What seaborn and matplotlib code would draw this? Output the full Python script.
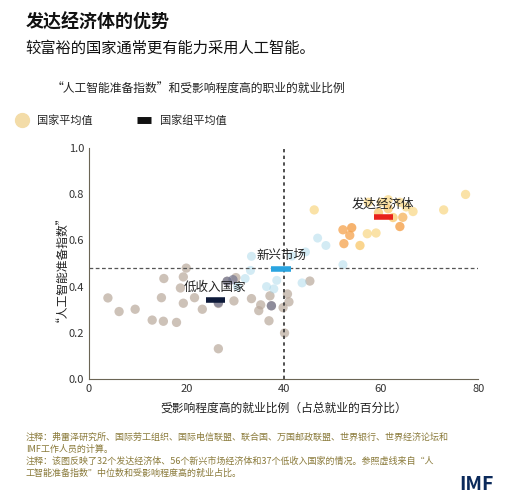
import matplotlib
matplotlib.use("Agg")
import matplotlib.pyplot as plt
import seaborn as sns
from matplotlib.lines import Line2D

sns.set_style("white")
plt.rcParams['font.family'] = ['Noto Sans CJK SC', 'DejaVu Sans']

# 低收入国家
low_x = [3.9, 6.2, 9.5, 13.0, 15.3, 18.0, 14.9, 15.4, 18.8, 19.4, 20.0, 19.4, 21.7, 23.3,
         26.6, 26.6, 29.8, 28.4, 30.2, 33.4, 35.3, 34.9, 37.0, 37.2, 37.5, 39.9, 40.8, 41.1, 40.2, 45.4]
low_y = [0.351, 0.292, 0.302, 0.255, 0.250, 0.245, 0.352, 0.435, 0.394, 0.442, 0.48, 0.328, 0.352, 0.302,
         0.131, 0.327, 0.338, 0.423, 0.439, 0.348, 0.321, 0.296, 0.252, 0.36, 0.317, 0.309, 0.368, 0.334, 0.199, 0.424]
low_dark_x = [28.4, 29.6, 37.5, 26.6]
low_dark_y = [0.423, 0.43, 0.317, 0.33]
# 新兴市场
em_x = [33.4, 32.1, 38.6, 41.7, 43.8, 48.7, 52.2, 33.2, 36.5, 44.5, 47.0, 30.5, 38.0]
em_y = [0.531, 0.435, 0.427, 0.532, 0.416, 0.578, 0.495, 0.47, 0.40, 0.55, 0.61, 0.40, 0.39]
# 发达经济体
adv_x = [46.3, 52.2, 54.0, 53.6, 52.4, 55.7, 57.2, 59.0, 63.9, 72.9, 77.4, 57.4, 60.1, 61.5,
         63.9, 66.6, 62.5, 61.5, 65.2, 59.5, 64.5]
adv_y = [0.732, 0.646, 0.655, 0.622, 0.586, 0.578, 0.629, 0.632, 0.66, 0.732, 0.799, 0.765, 0.765, 0.776,
         0.765, 0.725, 0.699, 0.737, 0.745, 0.72, 0.70]
adv_col = ['#f9d98a', '#f5a24c', '#f39a3e', '#f5a24c', '#f5a24c', '#f9c86a', '#f9d98a', '#f9d98a',
           '#f39a3e', '#f9d98a', '#f9d98a', '#f9d98a', '#f9d98a', '#f9d98a', '#f9d98a', '#f9d98a',
           '#f9c86a', '#f9c86a', '#f9d98a', '#f9c86a', '#f5b25a']

groups = ['发达经济体', '新兴市场', '低收入国家']
mean_x = [60.5, 39.5, 26.0]
mean_y = [0.70, 0.475, 0.34]
mean_col = ['#e8221b', '#2aa4e0', '#0d1a3a']
ref_x, ref_y = 40, 0.48

fig = plt.figure(figsize=(5.17, 5.0), dpi=100)
ax = fig.add_axes([0.172, 0.242, 0.753, 0.462])

sns.scatterplot(x=low_x, y=low_y, ax=ax, color='#b9a89b', s=45, alpha=0.7, edgecolor='none')
sns.scatterplot(x=low_dark_x, y=low_dark_y, ax=ax, color='#6d6f8c', s=45, alpha=0.65, edgecolor='none')
sns.scatterplot(x=em_x, y=em_y, ax=ax, color='#9fd3e8', s=42, alpha=0.45, edgecolor='none')
ax.scatter(adv_x, adv_y, c=adv_col, s=45, alpha=0.75, edgecolors='none')

ax.axvline(ref_x, color='#333333', ls=(0, (2, 2)), lw=1.2, zorder=1)
ax.axhline(ref_y, color='#555555', ls=(0, (3, 2)), lw=0.9, zorder=1)

for g, mx, my, c in zip(groups, mean_x, mean_y, mean_col):
    ax.plot([mx - 2, mx + 2], [my, my], color=c, lw=4, solid_capstyle='butt', zorder=5)
    ax.text(mx, my + 0.03, g, ha='center', va='bottom', fontsize=9, color='#222222', zorder=6)

ax.set_xlim(0, 80)
ax.set_ylim(0, 1.0)
ax.set_xticks([0, 20, 40, 60, 80])
ax.set_yticks([0, 0.2, 0.4, 0.6, 0.8, 1.0])
ax.set_yticklabels(['0.0', '0.2', '0.4', '0.6', '0.8', '1.0'])
ax.tick_params(axis='both', labelsize=8, colors='#333333', length=3, direction='in')
for s in ['top', 'right']:
    ax.spines[s].set_visible(False)
for s in ['left', 'bottom']:
    ax.spines[s].set_color('#6b6555')
ax.set_xlabel('受影响程度高的就业比例（占总就业的百分比）', fontsize=8.5, color='#222222', labelpad=6)
ax.set_ylabel('“人工智能准备指数”', fontsize=8.5, color='#222222')

fig.text(0.05, 0.945, '发达经济体的优势', fontsize=13, fontweight='bold', color='#111111')
fig.text(0.05, 0.895, '较富裕的国家通常更有能力采用人工智能。', fontsize=11, color='#111111')
fig.text(0.10, 0.815, '“人工智能准备指数”和受影响程度高的职业的就业比例', fontsize=8.5, color='#222222')

handles = [Line2D([], [], marker='o', ls='none', color='#f3dca8', markersize=10),
           Line2D([], [], color='#111111', lw=5, solid_capstyle='butt')]
fig.legend(handles, ['国家平均值', '国家组平均值'], loc='upper left', bbox_to_anchor=(0.01, 0.79),
           ncol=2, frameon=False, fontsize=8, handlelength=1.2, columnspacing=4)

fig.text(0.05, 0.135, '注释：弗雷泽研究所、国际劳工组织、国际电信联盟、联合国、万国邮政联盟、世界银行、世界经济论坛和\nIMF工作人员的计算。\n'
         '注释：该图反映了32个发达经济体、56个新兴市场经济体和37个低收入国家的情况。参照虚线来自“人\n工智能准备指数”中位数和受影响程度高的就业占比。',
         fontsize=6.5, color='#8a7a3a', linespacing=1.4, va='top')
fig.text(0.955, 0.02, 'IMF', fontsize=14, fontweight='bold', color='#0b2a5b', ha='right')

fig.savefig('out.png', dpi=100)
